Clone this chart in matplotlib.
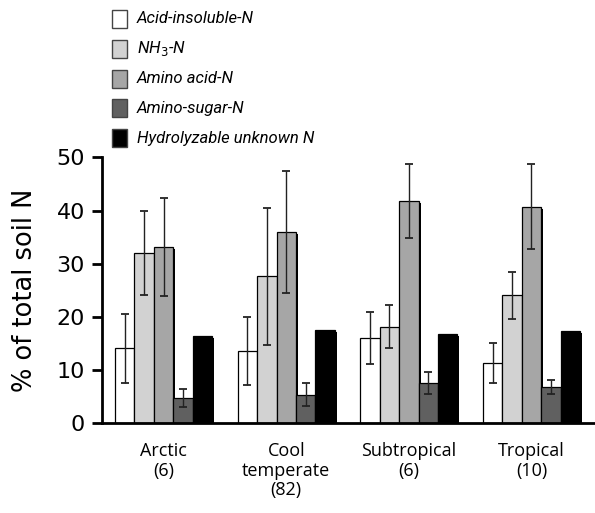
import matplotlib
matplotlib.use("Agg")
import matplotlib.pyplot as plt
import matplotlib.patheffects as pe
from matplotlib.patches import Rectangle
import numpy as np

# ── data ──────────────────────────────────────────────────────────────────────
regions = ["Arctic\n(6)", "Cool\ntemperate\n(82)", "Subtropical\n(6)", "Tropical\n(10)"]
fractions = ["Acid-insoluble-N", "NH$_3$-N", "Amino acid-N", "Amino-sugar-N",
             "Hydrolyzable unknown N"]

acid_insoluble = [14.0, 13.6, 15.9, 11.2]
acid_insoluble_err = [6.5, 6.4, 4.9, 3.8]
nh3 = [32.0, 27.6, 18.1, 24.0]
nh3_err = [8.0, 12.9, 4.0, 4.5]
amino_acid = [33.1, 36.0, 41.8, 40.7]
amino_acid_err = [9.3, 11.5, 6.9, 8.0]
amino_sugar = [4.6, 5.3, 7.5, 6.8]
amino_sugar_err = [1.7, 2.1, 2.1, 1.3]
hydrolyzable_unknown = [16.3, 17.5, 16.8, 17.3]

colors = ["#ffffff", "#d2d2d2", "#a6a6a6", "#606060", "#000000"]

series = [
    (acid_insoluble, acid_insoluble_err),
    (nh3, nh3_err),
    (amino_acid, amino_acid_err),
    (amino_sugar, amino_sugar_err),
    (hydrolyzable_unknown, None),
]

fig = plt.figure(figsize=(5.95, 5.13), dpi=100)
ax = fig.add_axes([0.171, 0.176, 0.829, 0.517])

x = np.arange(len(regions))
width = 0.158
shadow = [pe.SimplePatchShadow(offset=(1.6, -1.6), shadow_rgbFace="black", alpha=1.0),
          pe.Normal()]

for i, ((vals, errs), col) in enumerate(zip(series, colors)):
    pos = x + (i - 2) * width
    bars = ax.bar(pos, vals, width, color=col, edgecolor="black", linewidth=0.9,
                  zorder=2 + i * 0.1)
    for b in bars:
        b.set_path_effects(shadow)
    if errs is not None:
        ax.errorbar(pos, vals, yerr=errs, fmt="none", ecolor="#222222",
                    elinewidth=1.0, capsize=3, capthick=1.3, zorder=5)

ax.set_xlim(-0.504, 3.518)
ax.set_ylim(0, 50)
ax.set_yticks([0, 10, 20, 30, 40, 50])
ax.set_xticks(x)
ax.set_xticklabels(regions, fontsize=13, family="Open Sans", linespacing=1.1)
ax.tick_params(axis="x", length=0, pad=14)
ax.tick_params(axis="y", direction="out", length=7, width=2, labelsize=16, pad=5)
for lab in ax.get_yticklabels():
    lab.set_family("DejaVu Sans")

ax.spines["top"].set_visible(False)
ax.spines["right"].set_visible(False)
ax.spines["left"].set_linewidth(2)
ax.spines["bottom"].set_linewidth(2)
ax.set_ylabel("% of total soil N", fontsize=18.5, family="DejaVu Sans")
ax.yaxis.set_label_coords(-0.13, 0.5)

# legend drawn by hand in pixel coordinates
W, H = 595, 513
row_y = [19, 49, 79, 108, 138]
for yc, col, lab in zip(row_y, colors, fractions):
    fig.patches.append(Rectangle((112 / W, 1 - (yc + 9) / H), 15 / W, 18 / H,
                                 transform=fig.transFigure, facecolor=col,
                                 edgecolor="#444444", linewidth=1.0))
    fig.text(137 / W, 1 - yc / H, lab, fontsize=12, style="italic",
             family="Roboto", va="center", ha="left")

fig.savefig("out.png", dpi=100)
